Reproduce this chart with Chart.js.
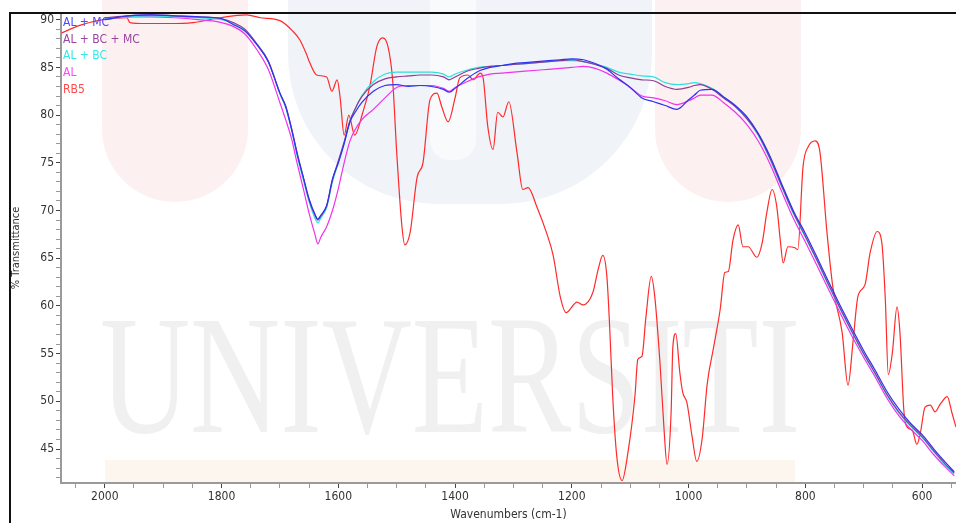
<!DOCTYPE html>
<html>
<head>
<meta charset="utf-8">
<script src="https://cdn.jsdelivr.net/npm/chart.js@4.4.1/dist/chart.umd.min.js"></script>
<style>
  html, body { margin: 0; padding: 0; background: #fff; }
  #wrap { width: 956px; height: 523px; }
</style>
</head>
<body>
<div id="wrap"><canvas id="chart" width="956" height="523"></canvas></div>
<script>
// ── DATA ───────────────────────────────────────────────────
// wavenumbers (cm-1) shared by the four sample spectra
const wnSample = [2000,1960,1920,1880,1840,1800,1780,1760,1740,1720,1700,1690,1680,1670,1660,1650,1640,1635,1630,1620,
  1610,1600,1590,1580,1570,1560,1540,1520,1500,1480,1460,1440,1420,1410,1400,1380,1360,1340,1320,1300,
  1280,1260,1240,1220,1200,1180,1160,1140,1120,1100,1080,1060,1040,1020,1000,990,980,960,940,920,
  900,880,860,840,820,800,780,760,740,720,700,680,660,640,620,600,580,560,545];

const tALMC = [90.0,90.4,90.5,90.4,90.3,90.1,89.5,88.8,87.4,85.6,82.3,80.9,78.5,75.8,73.5,71.2,69.6,69.1,69.5,70.5,
  73.3,75.0,77.0,79.3,80.4,81.3,82.5,83.1,83.2,83.0,83.1,83.0,82.7,82.4,82.8,83.8,84.6,85.0,85.2,85.4,
  85.5,85.6,85.7,85.8,85.9,85.8,85.4,84.8,83.8,82.9,81.8,81.4,81.0,80.6,81.6,82.1,82.6,82.7,81.9,81.0,
  79.8,78.0,75.6,72.7,69.9,67.6,65.1,62.5,60.0,57.6,55.3,53.2,51.0,49.2,47.7,46.5,45.0,43.6,42.6];

const tALBCMC = [90.2,90.4,90.5,90.4,90.3,90.1,89.7,89.0,87.5,85.7,82.3,80.9,78.6,75.9,73.5,71.1,69.5,69.0,69.4,70.5,
  73.2,75.2,77.2,79.4,80.8,81.9,83.2,83.8,84.0,84.1,84.2,84.2,84.0,83.7,84.0,84.6,84.9,85.1,85.2,85.3,
  85.4,85.5,85.6,85.7,85.8,85.6,85.3,84.9,84.2,83.9,83.7,83.6,83.0,82.7,82.9,83.1,83.2,82.7,81.8,80.9,
  79.6,77.9,75.4,72.5,69.7,67.3,64.8,62.2,59.7,57.3,55.0,52.9,50.7,48.9,47.5,46.3,44.8,43.4,42.5];

const tALBC = [90.1,90.3,90.4,90.3,90.2,90.0,89.6,88.9,87.5,85.6,82.2,80.7,78.4,75.6,73.2,70.9,69.2,68.7,69.2,70.3,
  73.0,75.0,77.1,79.4,80.8,82.0,83.5,84.3,84.5,84.5,84.5,84.5,84.3,84.0,84.3,84.7,85.0,85.1,85.2,85.3,
  85.4,85.5,85.6,85.7,85.7,85.6,85.3,85.0,84.5,84.3,84.1,84.0,83.4,83.2,83.3,83.4,83.3,82.8,81.9,80.9,
  79.6,77.8,75.3,72.4,69.6,67.2,64.7,62.1,59.6,57.2,54.9,52.8,50.6,48.8,47.4,46.2,44.7,43.3,42.4];

const tAL = [90.0,90.3,90.3,90.2,90.0,89.7,89.3,88.5,86.9,84.8,81.3,79.5,77.5,74.8,72.3,69.7,67.5,66.5,67.2,68.3,
  70.0,72.3,75.0,77.3,78.6,79.5,80.6,81.8,82.9,83.1,83.1,83.1,82.8,82.5,82.9,83.5,84.0,84.3,84.4,84.5,
  84.6,84.7,84.8,84.9,85.0,85.1,84.9,84.4,83.7,82.9,82.0,81.8,81.5,81.1,81.5,81.8,82.1,82.1,81.3,80.3,
  79.0,77.2,74.8,71.9,69.1,66.7,64.2,61.7,59.2,56.8,54.6,52.5,50.3,48.5,47.1,45.9,44.4,43.1,42.2];

// RB5 dye spectrum, own wavenumber grid
const wnRB5 = [2074,2043,2003,1962,1957,1931,1889,1849,1803,1757,1734,1700,1678,1666,1654,1649,1637,1620,1611,1602,
  1597,1590,1582,1572,1558,1546,1534,1524,1515,1507,1500,1491,1486,1477,1465,1455,1443,1431,1423,1412,
  1400,1392,1378,1369,1357,1352,1344,1335,1327,1318,1308,1294,1284,1275,1260,1243,1232,1220,1210,1191,
  1181,1164,1155,1147,1140,1135,1130,1123,1114,1104,1092,1087,1080,1073,1064,1058,1049,1042,1037,1030,
  1027,1022,1015,1010,1003,994,986,977,968,958,946,938,932,924,915,907,898,883,874,866,
  857,849,843,838,830,818,813,804,795,783,775,763,753,737,727,718,710,698,689,677,
  669,663,658,651,643,638,631,624,617,609,603,595,586,578,569,557,549,542];

const tRB5 = [88.6,89.4,90.0,90.2,89.7,89.6,89.6,89.7,90.2,90.5,90.2,89.9,88.8,87.9,86.3,85.5,84.2,84.0,82.5,83.7,
  81.9,77.9,80.0,77.9,80.3,83.0,87.2,88.1,87.2,83.7,76.1,68.3,66.4,67.7,73.5,75.0,81.6,82.3,80.9,79.3,
  81.8,83.9,84.2,83.7,84.4,83.9,78.8,76.4,80.3,79.8,81.4,76.1,72.2,72.4,70.4,67.6,65.3,61.0,59.3,60.4,
  60.1,61.4,63.8,65.3,63.1,57.5,50.5,44.2,41.7,44.6,50.5,54.4,54.7,58.9,63.1,61.0,54.0,47.0,43.4,48.8,
  55.7,57.1,53.0,50.9,49.9,46.3,43.7,46.0,51.9,55.4,59.6,63.5,63.6,66.9,68.5,66.2,66.2,65.1,66.6,69.8,
  72.2,70.4,66.9,64.5,66.2,66.1,65.9,74.6,76.7,77.3,76.1,67.7,62.0,57.2,51.7,56.5,61.0,62.2,65.6,67.8,
  66.6,60.6,52.8,55.1,59.9,57.2,48.8,47.2,47.0,45.5,46.7,49.4,49.6,48.9,49.7,50.5,48.8,47.3];

const seriesNames = ["AL + MC", "AL + BC + MC", "AL + BC", "AL", "RB5"];
const xRange = [542, 2075];
const yRange = [41.44, 90.7];

// ── STYLE ──────────────────────────────────────────────────
const FONT = "'Liberation Sans Narrow', 'Arial Narrow', 'DejaVu Sans Condensed', sans-serif";
const lineColors   = ["#3030ee", "#8e3d96", "#2ee0e0", "#f032f0", "#ff2a2a"];
const legendColors = ["#4848ff", "#9a45a0", "#3ae6e6", "#ff44ff", "#ff4a4a"];

const pts = (xs, ys) => xs.map((x, i) => ({ x, y: ys[i] }));

// faint university watermark behind the plot
const watermark = {
  id: "watermark",
  beforeDraw(chart) {
    const { ctx } = chart;
    ctx.save();
    ctx.fillStyle = "#fff";
    ctx.fillRect(0, 0, chart.width, chart.height);

    ctx.fillStyle = "#fdf0f0";
    ctx.beginPath(); ctx.roundRect(102, -80, 146, 282, [0, 0, 73, 73]); ctx.fill();
    ctx.beginPath(); ctx.roundRect(655, -80, 146, 282, [0, 0, 73, 73]); ctx.fill();

    ctx.fillStyle = "#f0f3f8";
    ctx.beginPath(); ctx.roundRect(288, -80, 364, 284, [0, 0, 150, 150]); ctx.fill();
    ctx.fillStyle = "#f8fafc";
    ctx.beginPath(); ctx.roundRect(430, -10, 46, 170, [0, 0, 20, 20]); ctx.fill();

    ctx.fillStyle = "#fdf6ee";
    ctx.fillRect(105, 460, 690, 23);

    ctx.fillStyle = "#f0f0f0";
    ctx.font = "170px 'Liberation Serif', serif";
    ctx.textBaseline = "alphabetic";
    ctx.fillText("UNIVERSITI", 100, 432, 700);
    ctx.restore();
  },
  afterDraw(chart) {
    const { ctx } = chart;
    ctx.save();
    ctx.strokeStyle = "#111";
    ctx.lineWidth = 2;
    ctx.strokeRect(10, 13, 1000, 1000);
    ctx.restore();
  }
};

// coloured text legend in the top-left corner
const textLegend = {
  id: "textLegend",
  afterDatasetsDraw(chart) {
    const { ctx, chartArea } = chart;
    ctx.save();
    ctx.font = "12px " + FONT;
    ctx.textBaseline = "middle";
    seriesNames.forEach((name, i) => {
      ctx.fillStyle = legendColors[i];
      ctx.fillText(name, chartArea.left + 2, chartArea.top + 10 + i * 16.6);
    });
    ctx.restore();
  }
};

const sampleData = [tALMC, tALBCMC, tALBC, tAL];
const datasets = sampleData.map((vals, i) => ({
  label: seriesNames[i],
  data: pts(wnSample, vals),
  borderColor: lineColors[i],
  borderWidth: 1.2,
}));
datasets.push({
  label: seriesNames[4],
  data: pts(wnRB5, tRB5),
  borderColor: lineColors[4],
  borderWidth: 1.2,
});

const tickFont = { family: FONT, size: 12 };

new Chart(document.getElementById("chart"), {
  type: "line",
  data: { datasets },
  plugins: [watermark, textLegend],
  options: {
    responsive: false,
    animation: false,
    layout: { padding: { left: 10, top: 13, right: 0, bottom: 0 } },
    elements: {
      point: { radius: 0 },
      line: { cubicInterpolationMode: "monotone", fill: false },
    },
    plugins: {
      legend: { display: false },
      tooltip: { enabled: false },
    },
    scales: {
      x: {
        type: "linear",
        reverse: true,
        min: xRange[0],
        max: xRange[1],
        afterFit: s => { s.height = 40; },
        border: { color: "#9a9a9a", width: 2 },
        grid: {
          drawOnChartArea: false,
          tickLength: 5,
          tickColor: c => (c.tick && c.tick.value % 200 === 0 ? "#444" : "#999"),
        },
        ticks: {
          stepSize: 50,
          includeBounds: false,
          autoSkip: false,
          maxRotation: 0,
          padding: 2,
          color: "#333",
          font: tickFont,
          callback: v => (v % 200 === 0 ? v : ""),
        },
        title: {
          display: true,
          text: "Wavenumbers (cm-1)",
          color: "#333",
          font: tickFont,
          padding: { top: 0, bottom: 1 },
        },
      },
      y: {
        min: yRange[0],
        max: yRange[1],
        afterFit: s => { s.width = 51; },
        border: { color: "#9a9a9a", width: 2 },
        grid: {
          drawOnChartArea: false,
          tickLength: 5,
          tickColor: c => (c.tick && c.tick.value % 5 === 0 ? "#444" : "#999"),
        },
        ticks: {
          stepSize: 1,
          includeBounds: false,
          autoSkip: false,
          padding: 2,
          color: "#333",
          font: tickFont,
          callback: v => (v % 5 === 0 ? v : ""),
        },
        title: {
          display: true,
          text: "% Transmittance",
          color: "#333",
          font: { family: FONT, size: 11 },
          padding: { top: 0, bottom: 0 },
        },
      },
    },
  },
});
</script>
</body>
</html>
